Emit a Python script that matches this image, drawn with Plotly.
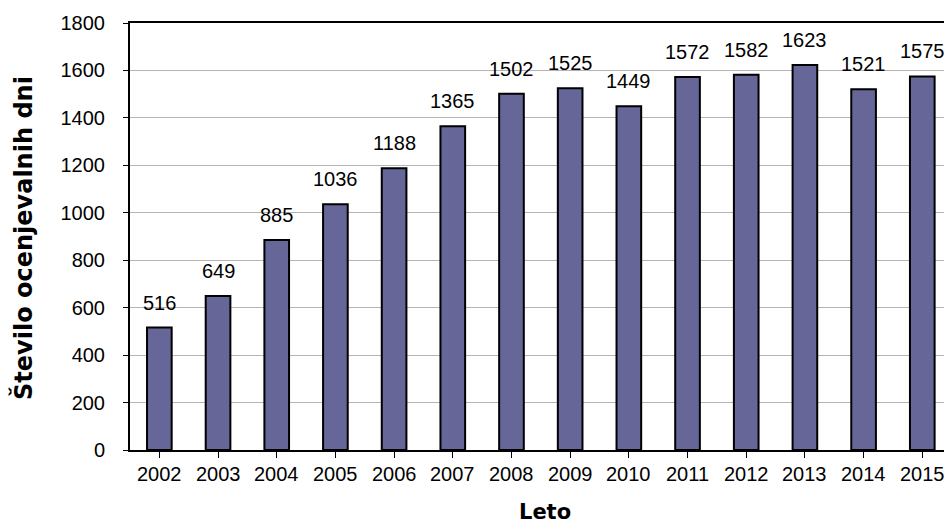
import plotly.graph_objects as go

years = ["2002", "2003", "2004", "2005", "2006", "2007", "2008",
         "2009", "2010", "2011", "2012", "2013", "2014", "2015"]
days = [516, 649, 885, 1036, 1188, 1365, 1502, 1525, 1449, 1572, 1582, 1623, 1521, 1575]

y_ticks = [0, 200, 400, 600, 800, 1000, 1200, 1400, 1600, 1800]

FONT = "Liberation Sans, Arial, sans-serif"
TITLE_FONT = "DejaVu Sans, sans-serif"

x_pos = list(range(len(years)))

fig = go.Figure(
    go.Bar(
        x=x_pos,
        y=days,
        width=0.42,
        marker=dict(color="#666699", line=dict(color="#000000", width=2)),
        hoverinfo="x+y",
    )
)

# value labels above each bar
value_labels = [
    dict(
        x=xi, y=v, xref="x", yref="y",
        text=str(v),
        showarrow=False,
        xanchor="center", yanchor="middle",
        yshift=25,
        font=dict(family=FONT, size=20, color="#000000"),
    )
    for xi, v in zip(x_pos, days)
]

# category labels under the axis (drawn as annotations so the last one
# is kept even though it runs past the right edge)
year_labels = [
    dict(
        x=xi, y=0, xref="x", yref="y",
        text=label,
        showarrow=False,
        xanchor="center", yanchor="middle",
        yshift=-24,
        font=dict(family=FONT, size=20, color="#000000"),
    )
    for xi, label in zip(x_pos, years)
]

fig.update_layout(
    width=944,
    height=523,
    margin=dict(l=130, r=0, t=23, b=73),
    paper_bgcolor="white",
    plot_bgcolor="white",
    showlegend=False,
    font=dict(family=FONT, size=20, color="#000000"),
    xaxis=dict(
        tickmode="array",
        tickvals=x_pos,
        ticktext=years,
        tickson="boundaries",
        showticklabels=False,
        range=[-0.5, 13.37],
        ticks="outside",
        ticklen=6,
        tickcolor="#000000",
        showline=True,
        linecolor="#000000",
        linewidth=2,
        mirror=True,
        showgrid=False,
        zeroline=False,
    ),
    yaxis=dict(
        range=[0, 1800],
        tickvals=y_ticks,
        ticks="outside",
        ticklen=5,
        tickcolor="#000000",
        showline=True,
        linecolor="#000000",
        linewidth=2,
        showgrid=True,
        gridcolor="#b4b4b4",
        gridwidth=1,
        zeroline=False,
        ticklabelstandoff=14,
        tickfont=dict(family=FONT, size=20),
    ),
    annotations=value_labels + year_labels + [
        dict(
            text="<b>Leto</b>",
            xref="paper", yref="paper",
            x=(545 - 130) / 814, y=-(512 - 450) / 427,
            xanchor="center", yanchor="middle",
            showarrow=False,
            font=dict(family=TITLE_FONT, size=21),
        ),
        dict(
            text="<b>Število ocenjevalnih dni</b>",
            xref="paper", yref="paper",
            x=-(130 - 23) / 814, y=(450 - 238) / 427,
            xanchor="center", yanchor="middle",
            textangle=-90,
            showarrow=False,
            font=dict(family=TITLE_FONT, size=24),
        ),
    ],
)

fig.write_html("out.html")
